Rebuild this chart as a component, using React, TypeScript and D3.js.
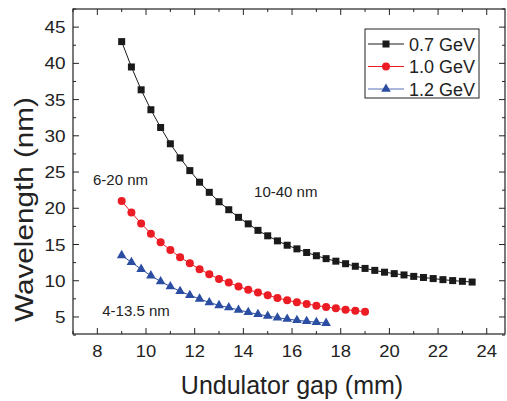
import React from "react";
import * as d3 from "d3";

const gap07 = [9.0, 9.4, 9.8, 10.2, 10.6, 11.0, 11.4, 11.8, 12.2, 12.6, 13.0, 13.4, 13.8, 14.2, 14.6, 15.0, 15.4, 15.8, 16.2, 16.6, 17.0, 17.4, 17.8, 18.2, 18.6, 19.0, 19.4, 19.8, 20.2, 20.6, 21.0, 21.4, 21.8, 22.2, 22.6, 23.0, 23.4];
const wl07 = [43.0, 39.5, 36.35, 33.6, 31.15, 28.9, 26.95, 25.2, 23.6, 22.2, 20.9, 19.8, 18.75, 17.85, 16.95, 16.2, 15.5, 14.9, 14.4, 13.9, 13.45, 13.05, 12.7, 12.35, 12.0, 11.7, 11.43, 11.18, 10.98, 10.8, 10.6, 10.45, 10.3, 10.15, 10.02, 9.92, 9.82];

const gap10 = [9.0, 9.4, 9.8, 10.2, 10.6, 11.0, 11.4, 11.8, 12.2, 12.6, 13.0, 13.4, 13.8, 14.2, 14.6, 15.0, 15.4, 15.8, 16.2, 16.6, 17.0, 17.4, 17.8, 18.2, 18.6, 19.0];
const wl10 = [21.0, 19.4, 17.9, 16.5, 15.3, 14.25, 13.25, 12.4, 11.6, 10.9, 10.25, 9.74, 9.2, 8.77, 8.36, 8.0, 7.62, 7.3, 7.03, 6.8, 6.56, 6.38, 6.2, 6.0, 5.87, 5.73];

const gap12 = [9.0, 9.4, 9.8, 10.2, 10.6, 11.0, 11.4, 11.8, 12.2, 12.6, 13.0, 13.4, 13.8, 14.2, 14.6, 15.0, 15.4, 15.8, 16.2, 16.6, 17.0, 17.4];
const wl12 = [13.5, 12.55, 11.6, 10.7, 9.9, 9.2, 8.55, 8.0, 7.5, 7.0, 6.6, 6.3, 5.97, 5.65, 5.37, 5.14, 4.9, 4.72, 4.54, 4.4, 4.28, 4.15];

const seriesNames = ["0.7 GeV", "1.0 GeV", "1.2 GeV"];
const xTicks = [8, 10, 12, 14, 16, 18, 20, 22, 24];
const xMinor = [7, 9, 11, 13, 15, 17, 19, 21, 23];
const yTicks = [5, 10, 15, 20, 25, 30, 35, 40, 45];
const yMinor = [2.5, 7.5, 12.5, 17.5, 22.5, 27.5, 32.5, 37.5, 42.5, 47.5];
const annotations = [
  { text: "10-40 nm", gx: 14.44, wy: 21.5 },
  { text: "6-20 nm", gx: 7.82, wy: 23.2 },
  { text: "4-13.5 nm", gx: 8.2, wy: 5.2 },
];

const W = 507, H = 401;
const L = 73, R = 505, T = 9, B = 334;
const FONT = "'Liberation Sans', Arial, sans-serif";

export default function App() {
  const x = d3.scaleLinear().domain([7, 24.75]).range([L, R]);
  const y = d3.scaleLinear().domain([2.65, 47.5]).range([B, T]);
  const colors = ["#1a1a1a", "#ec1c24", "#2b4ea2"];
  const legendLine = ["#1a1a1a", "#ec1c24", "#5a72b8"];
  const series = [
    { g: gap07, v: wl07, shape: "square" },
    { g: gap10, v: wl10, shape: "circle" },
    { g: gap12, v: wl12, shape: "triangle" },
  ];
  const line = d3.line<[number, number]>().x(d => x(d[0])).y(d => y(d[1]));
  const triSym = d3.symbol().type(d3.symbolTriangle).size(40);

  const marker = (shape: string, cx: number, cy: number, color: string, key: any) => {
    if (shape === "square") return <rect key={key} x={cx - 3.5} y={cy - 3.5} width={7} height={7} fill={color} />;
    if (shape === "circle") return <circle key={key} cx={cx} cy={cy} r={4} fill={color} />;
    return <path key={key} d={triSym() as string} transform={`translate(${cx},${cy})`} fill={color} />;
  };

  return (
    <svg width={W} height={H} style={{ position: "absolute", left: 0, top: 0, background: "#fff" }} fontFamily={FONT}>
      <rect x={0} y={0} width={W} height={H} fill="#fff" />
      {series.map((s, i) => {
        const pts: [number, number][] = s.g.map((gv, j) => [gv, s.v[j]]);
        return (
          <g key={i}>
            <path d={line(pts) as string} fill="none" stroke={colors[i]} strokeWidth={1} />
            {pts.map((p, j) => marker(s.shape, x(p[0]), y(p[1]), colors[i], j))}
          </g>
        );
      })}
      <rect x={L} y={T} width={R - L} height={B - T} fill="none" stroke="#222" strokeWidth={1.2} />
      {xTicks.map(t => (
        <g key={"xt" + t}>
          <line x1={x(t)} x2={x(t)} y1={B} y2={B - 6} stroke="#222" />
          <line x1={x(t)} x2={x(t)} y1={T} y2={T + 6} stroke="#222" />
          <text transform={`translate(${x(t)},357) scale(1.15,1)`} textAnchor="middle" fontSize={16} fill="#222">{t}</text>
        </g>
      ))}
      {xMinor.map(t => (
        <g key={"xm" + t}>
          <line x1={x(t)} x2={x(t)} y1={B} y2={B - 3} stroke="#222" />
          <line x1={x(t)} x2={x(t)} y1={T} y2={T + 3} stroke="#222" />
        </g>
      ))}
      {yTicks.map(t => (
        <g key={"yt" + t}>
          <line x1={L} x2={L + 6} y1={y(t)} y2={y(t)} stroke="#222" />
          <line x1={R} x2={R - 6} y1={y(t)} y2={y(t)} stroke="#222" />
          <text transform={`translate(65.5,${y(t) + 6}) scale(1.15,1)`} textAnchor="end" fontSize={16.5} fill="#222">{t}</text>
        </g>
      ))}
      {yMinor.map(t => (
        <g key={"ym" + t}>
          <line x1={L} x2={L + 3} y1={y(t)} y2={y(t)} stroke="#222" />
          <line x1={R} x2={R - 3} y1={y(t)} y2={y(t)} stroke="#222" />
        </g>
      ))}
      <text x={(L + R) / 2 + 3} y={394} textAnchor="middle" fontSize={25} fill="#222">Undulator gap (mm)</text>
      <text transform={`translate(33,209.5) rotate(-90)`} textAnchor="middle" fontSize={25} fill="#222"
        textLength={225} lengthAdjust="spacingAndGlyphs">Wavelength (nm)</text>
      {annotations.map((a, i) => (
        <text key={i} x={x(a.gx)} y={y(a.wy)} fontSize={15} fill="#222">{a.text}</text>
      ))}
      <rect x={365} y={29} width={114} height={69} fill="#fff" stroke="#222" strokeWidth={1} />
      {seriesNames.map((n, i) => {
        const ly = 44 + i * 22.5;
        return (
          <g key={n}>
            <line x1={368} x2={404} y1={ly} y2={ly} stroke={legendLine[i]} strokeWidth={1} />
            {marker(series[i].shape, 386, ly, colors[i], "m")}
            <text x={409} y={ly + 6.5} fontSize={18} fill="#222">{n}</text>
          </g>
        );
      })}
    </svg>
  );
}
